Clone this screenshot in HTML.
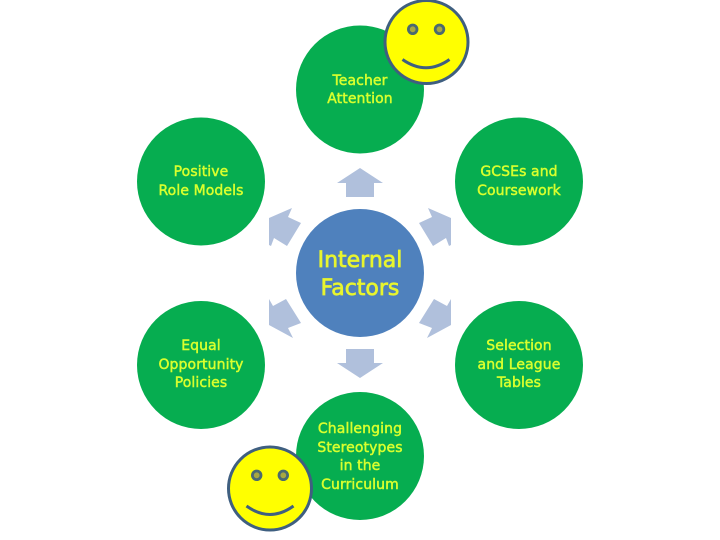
<!DOCTYPE html>
<html><head><meta charset="utf-8">
<style>
html,body{margin:0;padding:0;background:#fff;}
svg{display:block;}
text{font-family:"DejaVu Sans","Liberation Sans",sans-serif;text-anchor:middle;fill:#d9ff2e;font-size:14px;stroke:#d9ff2e;stroke-width:0.45px;letter-spacing:0.1px;}
text.big{font-size:22px;fill:#e8f52e;stroke:#e8f52e;stroke-width:0.7px;letter-spacing:0;}
</style></head>
<body>
<svg width="720" height="540" viewBox="0 0 720 540" xmlns="http://www.w3.org/2000/svg">
<rect width="720" height="540" fill="#fff"/>
<g fill="#06ad50">
<circle cx="360" cy="89.5" r="64"/>
<circle cx="201" cy="181.5" r="64"/>
<circle cx="519" cy="181.5" r="64"/>
<circle cx="201" cy="365" r="64"/>
<circle cx="519" cy="365" r="64"/>
<circle cx="360" cy="456" r="64"/>
</g>
<g fill="#b0c0dc">
<polygon points="360,168 383,183 374,183 374,197 346,197 346,183 337,183"/>
<polygon points="346,349 374,349 374,363 383,363 360,378 337,363 346,363"/>
<polygon points="292,208 288,217 301,223 287,246 274,238 271,246 269,245 269,218"/>
<polygon points="428,208 432,217 419,223 433,246 446,238 449,246 451,245 451,218"/>
<polygon points="269,299 273,306 286,299 301,323 288,328 293,338 269,325"/>
<polygon points="451,299 447,306 434,299 419,323 432,328 427,338 451,325"/>
</g>
<circle cx="360" cy="273" r="64" fill="#4f81bd"/>
<g>
<circle cx="426.500" cy="42" r="41.500" fill="#ffff00" stroke="#3f5f80" stroke-width="3"/>
<circle cx="412.700" cy="29.300" r="4.300" fill="#a8a840" stroke="#4a6a70" stroke-width="2.800"/>
<circle cx="439.500" cy="29.300" r="4.300" fill="#a8a840" stroke="#4a6a70" stroke-width="2.800"/>
<path d="M402.500 59.500 Q426 76 449.500 59.500" fill="none" stroke="#3f5f80" stroke-width="3"/>
</g>
<g>
<circle cx="270" cy="488.500" r="41.500" fill="#ffff00" stroke="#3f5f80" stroke-width="3"/>
<circle cx="256.700" cy="475.300" r="4.300" fill="#a8a840" stroke="#4a6a70" stroke-width="2.800"/>
<circle cx="283.300" cy="475.300" r="4.300" fill="#a8a840" stroke="#4a6a70" stroke-width="2.800"/>
<path d="M246.500 506 Q270 523 293.500 506" fill="none" stroke="#3f5f80" stroke-width="3"/>
</g>
<text x="360" y="85">Teacher</text>
<text x="360" y="103">Attention</text>
<text x="201" y="176">Positive</text>
<text x="201" y="195">Role Models</text>
<text x="519" y="176">GCSEs and</text>
<text x="519" y="195">Coursework</text>
<text x="201" y="350">Equal</text>
<text x="201" y="369">Opportunity</text>
<text x="201" y="387">Policies</text>
<text x="519" y="350">Selection</text>
<text x="519" y="369">and League</text>
<text x="519" y="387">Tables</text>
<text x="360" y="433">Challenging</text>
<text x="360" y="452">Stereotypes</text>
<text x="360" y="470">in the</text>
<text x="360" y="489">Curriculum</text>
<text class="big" x="360" y="267">Internal</text>
<text class="big" x="360" y="295">Factors</text>
</svg>
</body></html>
